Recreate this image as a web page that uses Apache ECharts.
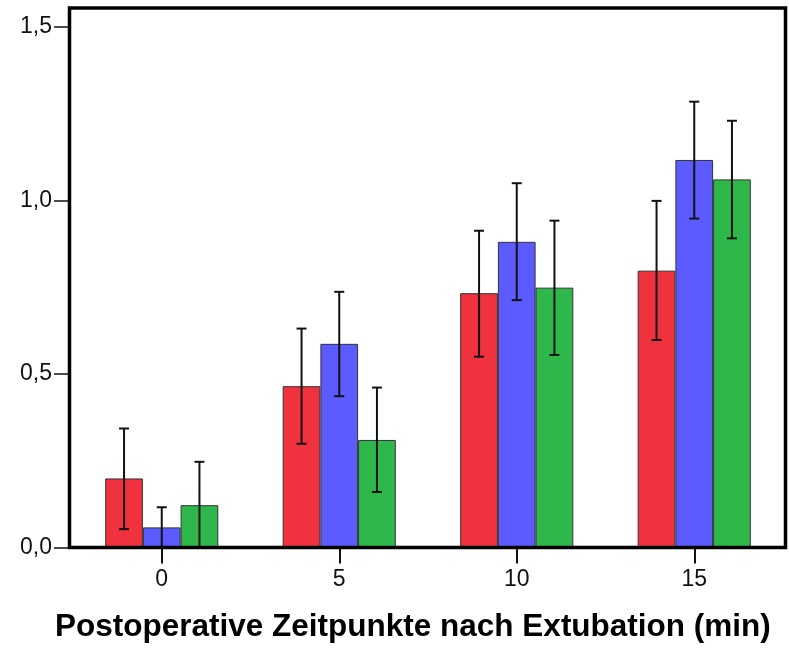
<!DOCTYPE html>
<html>
<head>
<meta charset="utf-8">
<style>
  html, body { margin: 0; padding: 0; background: #fff; }
  #chart { width: 789px; height: 648px; }
</style>
<script src="https://cdn.jsdelivr.net/npm/echarts@6/dist/echarts.min.js"></script>
</head>
<body>
<div id="chart"></div>
<script>
"use strict";

// Zeitpunkte (min) and the three groups: mean with lower / upper error bounds.
const categories = ["0", "5", "10", "15"];
const redMean   = [0.199, 0.465, 0.733, 0.798];
const redLow    = [0.053, 0.299, 0.550, 0.598];
const redHigh   = [0.343, 0.631, 0.913, 0.999];
const blueMean  = [0.058, 0.587, 0.881, 1.117];
const blueLow   = [0.000, 0.436, 0.713, 0.948];
const blueHigh  = [0.116, 0.737, 1.050, 1.285];
const greenMean = [0.122, 0.310, 0.749, 1.061];
const greenLow  = [0.000, 0.160, 0.555, 0.891];
const greenHigh = [0.247, 0.461, 0.942, 1.230];
const yTicks    = [0, 0.5, 1.0, 1.5];

const COLORS = ["#EF323D", "#5B5BFF", "#2EB84B"];
const BAR_W = 37.7;
const FONT = "'Liberation Sans', Arial, sans-serif";

const groups = [
  { mean: redMean,   low: redLow,   high: redHigh },
  { mean: blueMean,  low: blueLow,  high: blueHigh },
  { mean: greenMean, low: greenLow, high: greenHigh },
];

const bars = groups.map((g, i) => ({
  type: "bar",
  data: g.mean,
  barWidth: BAR_W,
  barGap: "0%",
  itemStyle: { color: COLORS[i], borderColor: "#333", borderWidth: 1 },
  z: 2,
}));

// Error bars: vertical line with caps, shifted to sit on the bar centre.
const errors = groups.map((g, i) => ({
  type: "custom",
  data: categories.map((_, k) => [k, g.low[k], g.high[k]]),
  z: 5,
  silent: true,
  renderItem(params, api) {
    const lo = api.coord([api.value(0), api.value(1)]);
    const hi = api.coord([api.value(0), api.value(2)]);
    const x = lo[0] + (i - 1) * BAR_W;
    const cap = 5;
    const style = { stroke: "#111", lineWidth: 2 };
    return {
      type: "group",
      children: [
        { type: "line", shape: { x1: x, y1: lo[1], x2: x, y2: hi[1] }, style },
        { type: "line", shape: { x1: x - cap, y1: hi[1], x2: x + cap, y2: hi[1] }, style },
        { type: "line", shape: { x1: x - cap, y1: lo[1], x2: x + cap, y2: lo[1] }, style },
      ],
    };
  },
}));

const chart = echarts.init(document.getElementById("chart"), null, { renderer: "canvas" });
chart.setOption({
  animation: false,
  backgroundColor: "#fff",
  textStyle: { fontFamily: FONT },
  // x-axis title sits slightly left of the plot centre, as in the original
  title: {
    text: "Postoperative Zeitpunkte nach Extubation (min)",
    left: 55,
    top: 611,
    padding: 0,
    textStyle: { color: "#000", fontSize: 31.5, fontWeight: "bold", fontFamily: FONT },
  },
  grid: { left: 73, right: 6, top: 8, bottom: 100.5, show: false },
  xAxis: {
    type: "category",
    data: categories,
    axisLine: { show: false },
    axisTick: { show: true, alignWithLabel: true, length: 16,
                lineStyle: { color: "#111", width: 2 } },
    axisLabel: { color: "#111", fontSize: 23, margin: 21, fontFamily: FONT },
  },
  yAxis: {
    type: "value",
    min: 0,
    max: 1.555,
    interval: 0.5,
    offset: 4,
    splitLine: { show: false },
    axisLine: { show: false },
    axisTick: { show: true, length: 15, lineStyle: { color: "#111", width: 1.5 } },
    axisLabel: {
      color: "#111", fontSize: 23, margin: 17, fontFamily: FONT, showMaxLabel: false,
      formatter: (v) => yTicks.includes(v) ? v.toFixed(1).replace(".", ",") : "",
    },
  },
  graphic: [{
    type: "rect",
    shape: { x: 69.5, y: 8, width: 716, height: 539.5 },
    style: { fill: null, stroke: "#000", lineWidth: 3.5 },
    z: 10,
    silent: true,
  }],
  series: [...bars, ...errors],
});
</script>
</body>
</html>
